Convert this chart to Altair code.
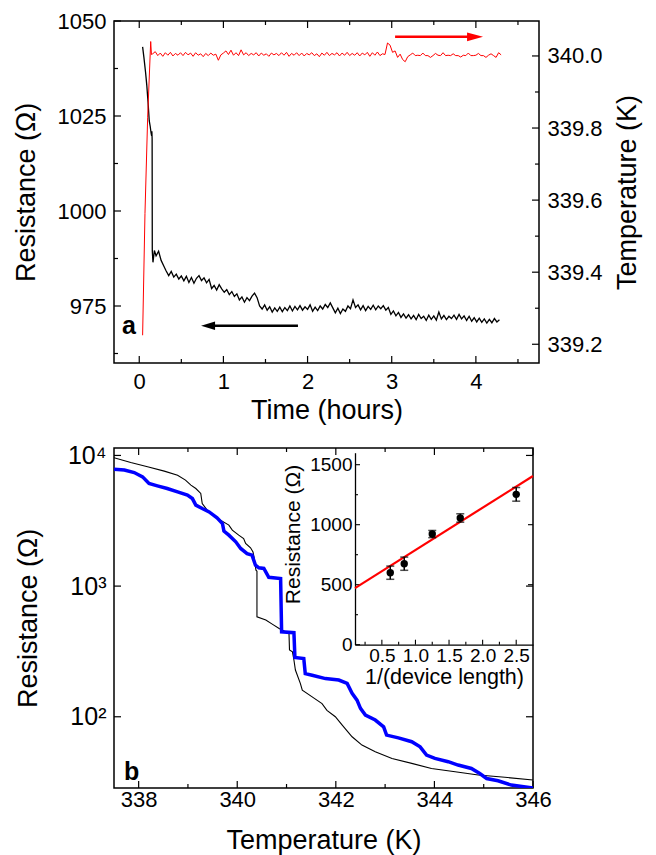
import altair as alt
import pandas as pd
import numpy as np

# ---------------- panel a : data ----------------
# resistance (left axis), steep start then noisy decay
res_t_start = [0.040, 0.055, 0.075, 0.090, 0.105, 0.119, 0.130, 0.140, 0.147, 0.150, 0.153, 0.155, 0.163, 0.170, 0.180]
res_start = [1043.2, 1040.5, 1036.5, 1033.0, 1028.5, 1023.7, 1022.3, 1020.6, 1019.8, 1021.0, 1019.0, 989.5, 986.5, 987.8, 989.6]
res_noisy_t0, res_noisy_dt = 0.20, 0.03
res_noisy = [
    988.2, 989.4, 987.0, 985.6, 984.2, 983.0, 984.1, 982.6, 983.4, 982.1,
    982.9, 981.6, 982.8, 981.2, 982.5, 981.0, 982.3, 983.0, 981.7, 982.4,
    981.1, 982.0, 979.6, 980.4, 979.2, 980.6, 979.5, 978.6, 979.3, 978.0,
    978.8, 977.5, 978.2, 976.6, 977.4, 976.0, 977.2, 976.4, 977.6, 978.4,
    977.2, 975.0, 974.2, 975.3, 973.9, 974.8, 973.4, 974.5, 973.6, 974.7,
    973.5, 974.6, 973.8, 975.0, 973.7, 974.9, 974.0, 975.1, 973.9, 974.8,
    974.1, 975.3, 973.6, 974.7, 973.8, 975.0, 974.2, 975.4, 974.6, 975.8,
    974.5, 973.2, 974.4, 973.0, 974.2, 973.6, 975.0, 974.3, 976.6, 974.6,
    975.3, 974.0, 975.1, 973.8, 974.9, 974.1, 975.2, 974.0, 975.0, 974.3,
    975.1, 973.9, 974.6, 972.8, 973.7, 972.4, 973.3, 972.0, 972.9, 971.8,
    972.7, 971.6, 972.5, 971.4, 972.8, 971.7, 972.3, 971.2, 972.6, 971.5,
    972.4, 971.3, 973.4, 971.6, 972.5, 971.4, 972.3, 971.7, 972.6, 971.5,
    972.8, 971.6, 972.4, 971.2, 972.3, 971.0, 971.9, 970.8, 971.8, 970.7,
    971.6, 970.5, 971.5, 970.6, 971.7, 970.8, 971.4]

# temperature (right axis): ramp then noisy plateau
temp_t_start = [0.040, 0.068, 0.100, 0.136, 0.145]
temp_start = [339.225, 339.563, 339.830, 340.040, 340.004]
temp_noisy_t0, temp_noisy_dt = 0.16, 0.03
temp_noisy = [
    340.006, 340.012, 340.001, 340.008, 339.999, 340.009, 340.002, 340.010, 340.000, 340.007,
    340.002, 340.009, 340.001, 340.010, 340.003, 340.008, 339.999, 340.009, 340.002, 340.006,
    339.998, 340.007, 340.001, 340.008, 340.002, 340.005, 339.988, 340.003, 340.008, 340.014,
    340.004, 340.016, 340.002, 340.009, 340.001, 340.017, 340.003, 340.009, 340.001, 340.007,
    340.003, 340.009, 340.000, 340.008, 340.002, 340.006, 339.999, 340.008, 340.003, 340.007,
    340.001, 340.009, 340.002, 340.010, 339.999, 340.007, 340.002, 340.009, 340.001, 340.008,
    340.000, 340.007, 340.003, 340.009, 340.001, 340.006, 339.998, 340.008, 340.002, 340.010,
    340.001, 340.007, 340.003, 340.009, 340.000, 340.008, 340.002, 340.010, 340.001, 340.007,
    340.002, 340.009, 340.000, 340.008, 340.003, 340.010, 339.999, 340.009, 340.002, 340.011,
    340.001, 340.006, 340.004, 340.036, 340.030, 340.010, 340.014, 339.996, 340.005, 339.990,
    339.984, 339.998, 340.003, 340.008, 340.001, 340.002, 340.001, 340.008, 340.001, 340.001,
    339.996, 340.001, 340.007, 340.002, 340.001, 340.009, 340.001, 340.002, 340.001, 340.006,
    340.001, 340.001, 339.997, 340.002, 340.001, 340.008, 340.001, 340.001, 340.002, 340.007,
    340.001, 340.001, 339.996, 340.002, 340.006, 340.001, 339.996, 340.009, 340.003]

# arrows
arrow_res = {"t": [1.886], "t2": [0.82], "R": [969.8]}
arrow_res_head = {"t": [0.818], "R": [969.8]}
arrow_temp = {"t": [3.04], "t2": [3.99], "temp": [340.053]}
arrow_temp_head = {"t": [3.99], "temp": [340.053]}

time_major = [0, 1, 2, 3, 4]
time_minor = [0.5, 1.5, 2.5, 3.5, 4.5]
res_major = [975, 1000, 1025, 1050]
res_minor = [962.5, 987.5, 1012.5, 1037.5]
temp_major = [339.2, 339.4, 339.6, 339.8, 340.0]
temp_minor = [339.3, 339.5, 339.7, 339.9]

# ---------------- panel b : data ----------------
black_T = [337.50, 337.84, 338.18, 338.52, 338.79, 338.95, 339.06, 339.16, 339.26, 339.29,
           339.39, 339.53, 339.66, 339.83, 339.90, 340.03, 340.13, 340.17, 340.27, 340.32,
           340.34, 340.38, 340.40, 340.40, 340.58, 340.71, 340.85, 340.98, 341.05, 341.06,
           341.12, 341.15, 341.18, 341.28, 341.32, 341.52, 341.72, 341.82, 341.99, 342.13,
           342.33, 342.53, 342.80, 343.14, 343.54, 343.94, 344.42, 344.89, 345.43, 346.00]
black_R = [9600, 8830, 8185, 7586, 7063, 6471, 5929, 5585, 5117, 4285,
           3811, 3451, 3199, 2931, 2679, 2455, 2312, 2118, 1963, 1828,
           1675, 1324, 1300, 582, 550, 512, 474, 447, 434, 324,
           314, 272, 228, 180, 160, 142, 126, 112, 100, 86.3,
           70.3, 60.7, 54.0, 48.0, 44.0, 40.2, 37.9, 35.8, 34.4, 32.8]

blue_T = [337.50, 337.71, 337.91, 338.08, 338.21, 338.38, 338.58, 338.79, 338.99, 339.09,
          339.16, 339.29, 339.43, 339.59, 339.70, 339.73, 339.83, 339.97, 340.07, 340.20,
          340.30, 340.37, 340.44, 340.54, 340.64, 340.88, 340.90, 341.15, 341.17, 341.35,
          341.38, 341.52, 341.79, 342.06, 342.23, 342.33, 342.43, 342.50, 342.60, 342.80,
          342.97, 343.03, 343.27, 343.54, 343.71, 343.84, 344.01, 344.28, 344.48, 344.75,
          344.92, 345.06, 345.29, 345.56, 346.00]
blue_R = [7852, 7727, 7396, 6855, 6095, 5848, 5585, 5260, 4966, 4677,
          4169, 3926, 3698, 3334, 3013, 2636, 2455, 2183, 1941, 1774,
          1726, 1445, 1380, 1365, 1169, 1143, 447, 440, 284, 279,
          214, 208, 196, 191, 180, 151, 134, 116, 103, 94.4,
          83.8, 72.4, 69.0, 64.4, 58.9, 50.9, 48.0, 45.3, 42.7, 40.2,
          36.8, 33.7, 32.4, 30.0, 28.5]

T_major = [338, 340, 342, 344, 346]
T_minor = [339, 341, 343, 345]
logR_major = [100, 1000, 10000]

# inset
inv_len = [0.625, 0.833, 1.25, 1.667, 2.5]
inset_R = [600, 675, 922, 1056, 1253]
inset_err = [55, 55, 30, 35, 57]
fit_x = [0.1, 2.75]
fit_R = [472, 1406]
inset_x_major = [0.5, 1.0, 1.5, 2.0, 2.5]
inset_x_minor = [0.25, 0.75, 1.25, 1.75, 2.25]
inset_y_major = [0, 500, 1000, 1500]
inset_y_minor = [250, 750, 1250]

# ---------------- layout constants (pixels) ----------------
TOP_W, TOP_H = 425, 342
BOT_W, BOT_H = 419, 340
INS_L, INS_R, INS_T, INS_B = 241, 419, 4.7, 196.7
MAJ, MIN = 7, 4
IMAJ, IMIN = 5, 3
FONT = "Liberation Sans"

# ---------------- helpers ----------------
def xrules(values, field, scale, axis, H, length, side):
    df = pd.DataFrame({field: values})
    y0, y1 = (H, H - length) if side == "bottom" else (0, length)
    return alt.Chart(df).mark_rule(color="black", strokeWidth=1.2).encode(
        x=alt.X(f"{field}:Q", scale=scale, axis=axis),
        y=alt.value(y0), y2=alt.value(y1))


def yrules(values, field, scale, axis, x0, x1):
    df = pd.DataFrame({field: values})
    return alt.Chart(df).mark_rule(color="black", strokeWidth=1.2).encode(
        y=alt.Y(f"{field}:Q", scale=scale, axis=axis),
        x=alt.value(x0), x2=alt.value(x1))


# ---------------- panel a ----------------
res_t = list(res_t_start) + list(np.round(res_noisy_t0 + res_noisy_dt * np.arange(len(res_noisy)), 3))
res_v = list(res_start) + list(res_noisy)
df_res = pd.DataFrame({"t": res_t, "R": res_v, "i": range(len(res_v))})
temp_t = list(temp_t_start) + list(np.round(temp_noisy_t0 + temp_noisy_dt * np.arange(len(temp_noisy)), 3))
temp_v = list(temp_start) + list(temp_noisy)
df_temp = pd.DataFrame({"t": temp_t, "temp": temp_v, "i": range(len(temp_v))})

sx_time = alt.Scale(domain=[-0.3, 4.75], nice=False, zero=False)
sy_res = alt.Scale(domain=[960, 1050], nice=False, zero=False)
sy_temp = alt.Scale(domain=[339.148, 340.097], nice=False, zero=False)

ax_time = alt.Axis(title="Time (hours)", values=time_major, format="d", labelFontSize=22,
                   titleFontSize=27, labelPadding=8, titlePadding=5, labelFlush=False,
                   labelOverlap=False)
ax_res = alt.Axis(title="Resistance (Ω)", values=res_major, format="d", labelFontSize=22,
                  titleFontSize=27, labelPadding=8, titlePadding=17, orient="left")
ax_temp = alt.Axis(title="Temperature (K)", values=temp_major, format=".1f", labelFontSize=22,
                   titleFontSize=27, labelPadding=8, titlePadding=12, orient="right",
                   titleAngle=270, titleBaseline="top")

X_t = alt.X("t:Q", scale=sx_time, axis=ax_time)

res_group = alt.layer(
    xrules(time_major, "t", sx_time, ax_time, TOP_H, MAJ, "bottom"),
    xrules(time_minor, "t", sx_time, ax_time, TOP_H, MIN, "bottom"),
    xrules(time_major, "t", sx_time, ax_time, TOP_H, MAJ, "top"),
    xrules(time_minor, "t", sx_time, ax_time, TOP_H, MIN, "top"),
    yrules(res_major, "R", sy_res, ax_res, 0, MAJ),
    yrules(res_minor, "R", sy_res, ax_res, 0, MIN),
    alt.Chart(df_res).mark_line(color="black", strokeWidth=1.3).encode(
        x=X_t, y=alt.Y("R:Q", scale=sy_res, axis=ax_res), order="i:Q"),
    alt.Chart(pd.DataFrame(arrow_res)).mark_rule(color="black", strokeWidth=2.5).encode(
        x=X_t, x2="t2:Q", y=alt.Y("R:Q", scale=sy_res, axis=ax_res)),
    alt.Chart(pd.DataFrame(arrow_res_head)).mark_point(
        shape="M-1,0L1,-0.6L1,0.6Z", size=196, filled=True, color="black", opacity=1).encode(
        x=X_t, y=alt.Y("R:Q", scale=sy_res, axis=ax_res)),
    alt.Chart(pd.DataFrame({"t": [-0.123], "R": [967.6], "lab": ["a"]})).mark_text(
        font=FONT, fontSize=25, fontWeight="bold", baseline="alphabetic", align="center",
        color="black").encode(x=X_t, y=alt.Y("R:Q", scale=sy_res, axis=ax_res), text="lab:N"),
)

temp_group = alt.layer(
    yrules(temp_major, "temp", sy_temp, ax_temp, TOP_W, TOP_W - MAJ),
    yrules(temp_minor, "temp", sy_temp, ax_temp, TOP_W, TOP_W - MIN),
    alt.Chart(df_temp).mark_line(color="#ff0000", strokeWidth=1.0).encode(
        x=X_t, y=alt.Y("temp:Q", scale=sy_temp, axis=ax_temp), order="i:Q"),
    alt.Chart(pd.DataFrame(arrow_temp)).mark_rule(color="#ff0000", strokeWidth=2.5).encode(
        x=X_t, x2="t2:Q", y=alt.Y("temp:Q", scale=sy_temp, axis=ax_temp)),
    alt.Chart(pd.DataFrame(arrow_temp_head)).mark_point(
        shape="M1,0L-1,-0.55L-1,0.55Z", size=256, filled=True, color="#ff0000", opacity=1).encode(
        x=X_t, y=alt.Y("temp:Q", scale=sy_temp, axis=ax_temp)),
)

top = alt.layer(res_group, temp_group).resolve_scale(y="independent").properties(
    width=TOP_W, height=TOP_H)

# ---------------- panel b ----------------
sx_T = alt.Scale(domain=[337.5, 346], nice=False, zero=False)
sy_log = alt.Scale(type="log", domain=[28.5, 11400], nice=False)
ax_T = alt.Axis(title="Temperature (K)", values=T_major, format="d", labelFontSize=22,
                titleFontSize=27, labelPadding=1, titlePadding=17, labelFlush=False,
                labelOverlap=False)
ax_logR = alt.Axis(title="Resistance (Ω)", values=logR_major, labelFontSize=25, titleFontSize=27,
                   labelPadding=8, titlePadding=25, orient="left",
                   labelExpr="datum.value == 100 ? '10²' : datum.value == 1000 ? '10³' : '10⁴'")
X_T = alt.X("T:Q", scale=sx_T, axis=ax_T)
Y_L = alt.Y("R:Q", scale=sy_log, axis=ax_logR)

df_black = pd.DataFrame({"T": black_T, "R": black_R, "i": range(len(black_T))})
df_blue = pd.DataFrame({"T": blue_T, "R": blue_R, "i": range(len(blue_T))})

main_group = alt.layer(
    xrules(T_major, "T", sx_T, ax_T, BOT_H, MAJ, "bottom"),
    xrules(T_minor, "T", sx_T, ax_T, BOT_H, MIN, "bottom"),
    xrules(T_major, "T", sx_T, ax_T, BOT_H, MAJ, "top"),
    xrules(T_minor, "T", sx_T, ax_T, BOT_H, MIN, "top"),
    yrules(logR_major, "R", sy_log, ax_logR, 0, MAJ),
    yrules(logR_major, "R", sy_log, ax_logR, BOT_W, BOT_W - MAJ),
    alt.Chart(df_black).mark_line(color="black", strokeWidth=1.1, clip=True).encode(
        x=X_T, y=Y_L, order="i:Q"),
    alt.Chart(df_blue).mark_line(color="#0000ff", strokeWidth=3.5, clip=True).encode(
        x=X_T, y=Y_L, order="i:Q"),
    alt.Chart(pd.DataFrame({"T": [337.86], "R": [32.8], "lab": ["b"]})).mark_text(
        font=FONT, fontSize=25, fontWeight="bold", baseline="alphabetic", align="center",
        color="black").encode(x=X_T, y=Y_L, text="lab:N"),
)

sx_in = alt.Scale(domain=[0.1, 2.75], range=[INS_L, INS_R], nice=False, zero=False)
sy_in = alt.Scale(domain=[0, 1600], range=[INS_B, INS_T], nice=False, zero=False)
ax_ix = alt.Axis(orient="bottom", offset=-(BOT_H - INS_B), title="1/(device length)",
                 values=inset_x_major, format=".1f", labelFontSize=19, titleFontSize=21.5,
                 labelPadding=2, titlePadding=1, domain=True, domainColor="black",
                 domainWidth=1.3, labelFlush=False, labelOverlap=False)
ax_iy = alt.Axis(orient="left", offset=-INS_L, title="Resistance (Ω)", values=inset_y_major,
                 format="d", labelFontSize=19, titleFontSize=21, labelPadding=3, titlePadding=6,
                 titleY=86, domain=True, domainColor="black", domainWidth=1.3,
                 labelOverlap=False)
X_I = alt.X("x:Q", scale=sx_in, axis=ax_ix)
Y_I = alt.Y("y:Q", scale=sy_in, axis=ax_iy)

df_pts = pd.DataFrame({"x": inv_len, "y": inset_R,
                       "lo": [r - e for r, e in zip(inset_R, inset_err)],
                       "hi": [r + e for r, e in zip(inset_R, inset_err)]})
df_fit = pd.DataFrame({"x": fit_x, "y": fit_R})


def inset_xrules(values, length):
    df = pd.DataFrame({"x": values})
    return alt.Chart(df).mark_rule(color="black", strokeWidth=1.1).encode(
        x=X_I, y=alt.value(INS_B), y2=alt.value(INS_B - length))


def inset_yrules(values, x0, x1):
    df = pd.DataFrame({"y": values})
    return alt.Chart(df).mark_rule(color="black", strokeWidth=1.1).encode(
        y=Y_I, x=alt.value(x0), x2=alt.value(x1))


inset_group = alt.layer(
    inset_xrules(inset_x_major, IMAJ),
    inset_xrules(inset_x_minor, IMIN),
    inset_yrules(inset_y_major, INS_L, INS_L + IMAJ),
    inset_yrules(inset_y_minor, INS_L, INS_L + IMIN),
    inset_yrules([500, 1000], INS_R, INS_R - IMAJ),
    alt.Chart(df_fit).mark_line(color="#ff0000", strokeWidth=2.2).encode(x=X_I, y=Y_I),
    alt.Chart(df_pts).mark_rule(color="black", strokeWidth=1.5).encode(
        x=X_I, y=alt.Y("lo:Q", scale=sy_in, axis=ax_iy), y2="hi:Q"),
    alt.Chart(df_pts).mark_tick(color="black", orient="horizontal", size=8, thickness=1.5).encode(
        x=X_I, y=alt.Y("lo:Q", scale=sy_in, axis=ax_iy)),
    alt.Chart(df_pts).mark_tick(color="black", orient="horizontal", size=8, thickness=1.5).encode(
        x=X_I, y=alt.Y("hi:Q", scale=sy_in, axis=ax_iy)),
    alt.Chart(df_pts).mark_circle(color="black", size=55, opacity=1).encode(x=X_I, y=Y_I),
)

bottom = alt.layer(main_group, inset_group).resolve_scale(
    x="independent", y="independent").properties(width=BOT_W, height=BOT_H)

chart = alt.vconcat(top, bottom, spacing=18).properties(
    padding={"left": 3, "top": 1, "right": 2, "bottom": 2}, background="white"
).configure_view(stroke="black", strokeWidth=1.5).configure_axis(
    labelFont=FONT, titleFont=FONT, labelColor="black", titleColor="black",
    titleFontWeight="normal", grid=False, ticks=False, domain=False)

chart.save("out.html", embed_options={"renderer": "svg", "actions": False})
